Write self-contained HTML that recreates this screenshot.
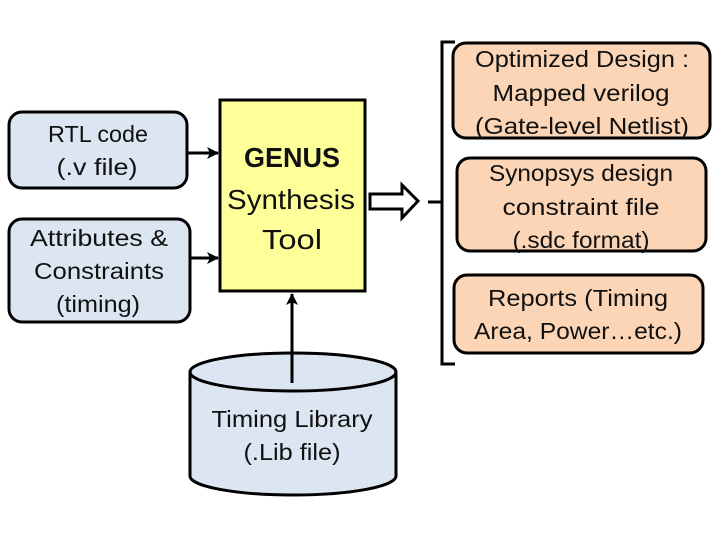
<!DOCTYPE html>
<html><head><meta charset="utf-8"><style>
html,body{margin:0;padding:0;background:#fff;}
svg{display:block;}
text{font-family:"Liberation Sans",sans-serif;font-size:23px;fill:#111;text-anchor:middle;}
</style></head><body>
<svg width="720" height="540" viewBox="0 0 720 540">
<defs><marker id="ah" markerWidth="12" markerHeight="12" refX="11" refY="6" orient="auto" markerUnits="userSpaceOnUse"><path d="M0,0 L12,6 L0,12 L3,6 z" fill="#000"/></marker></defs>
<rect x="9" y="112" width="178" height="76" rx="13" fill="#dce6f2" stroke="#000" stroke-width="3"/>
<text x="98" y="142" textLength="100" lengthAdjust="spacingAndGlyphs">RTL code</text>
<text x="97" y="175" textLength="81" lengthAdjust="spacingAndGlyphs">(.v file)</text>
<rect x="9" y="219" width="181" height="103" rx="13" fill="#dce6f2" stroke="#000" stroke-width="3"/>
<text x="99" y="246" textLength="138" lengthAdjust="spacingAndGlyphs">Attributes &amp;</text>
<text x="99" y="279" textLength="130" lengthAdjust="spacingAndGlyphs">Constraints</text>
<text x="98" y="312" textLength="84" lengthAdjust="spacingAndGlyphs">(timing)</text>
<line x1="188" y1="153" x2="218" y2="153" stroke="#000" stroke-width="3" marker-end="url(#ah)"/>
<line x1="191" y1="258" x2="218" y2="258" stroke="#000" stroke-width="3" marker-end="url(#ah)"/>
<rect x="220" y="100" width="145" height="191" fill="#ffff99" stroke="#000" stroke-width="3"/>
<text x="292" y="167" style="font-weight:bold;font-size:28px" textLength="96" lengthAdjust="spacingAndGlyphs">GENUS</text>
<text x="291" y="209" style="font-size:28px" textLength="128" lengthAdjust="spacingAndGlyphs">Synthesis</text>
<text x="292" y="249" style="font-size:28px" textLength="60" lengthAdjust="spacingAndGlyphs">Tool</text>
<path d="M190,372 L190,476 A103,19 0 0 0 396,476 L396,372" fill="#dce6f2" stroke="#000" stroke-width="3"/>
<ellipse cx="293" cy="372" rx="103" ry="19" fill="#dce6f2" stroke="#000" stroke-width="3"/>
<text x="292" y="427" textLength="161" lengthAdjust="spacingAndGlyphs">Timing Library</text>
<text x="292" y="460" textLength="97" lengthAdjust="spacingAndGlyphs">(.Lib file)</text>
<line x1="292" y1="383" x2="292" y2="294" stroke="#000" stroke-width="3" marker-end="url(#ah)"/>
<path d="M370,194 L402,194 L402,185 L418,201 L402,218 L402,209 L370,209 z" fill="#fff" stroke="#000" stroke-width="3"/>
<path d="M428,202 L442,202 M455,42 L442,42 L442,364 L455,364" fill="none" stroke="#000" stroke-width="3"/>
<rect x="453" y="43" width="257" height="95" rx="13" fill="#fbd5b5" stroke="#000" stroke-width="3"/>
<text x="582" y="67" textLength="214" lengthAdjust="spacingAndGlyphs">Optimized Design :</text>
<text x="581" y="101" textLength="177" lengthAdjust="spacingAndGlyphs">Mapped verilog</text>
<text x="582" y="134" textLength="214" lengthAdjust="spacingAndGlyphs">(Gate-level Netlist)</text>
<rect x="457" y="158" width="249" height="93" rx="13" fill="#fbd5b5" stroke="#000" stroke-width="3"/>
<text x="581" y="181" textLength="184" lengthAdjust="spacingAndGlyphs">Synopsys design</text>
<text x="581" y="215" textLength="157" lengthAdjust="spacingAndGlyphs">constraint file</text>
<text x="581" y="248" textLength="137" lengthAdjust="spacingAndGlyphs">(.sdc format)</text>
<rect x="454" y="275" width="249" height="78" rx="13" fill="#fbd5b5" stroke="#000" stroke-width="3"/>
<text x="578" y="306" textLength="180" lengthAdjust="spacingAndGlyphs">Reports (Timing</text>
<text x="578" y="339" textLength="208" lengthAdjust="spacingAndGlyphs">Area, Power…etc.)</text>
</svg>
</body></html>
